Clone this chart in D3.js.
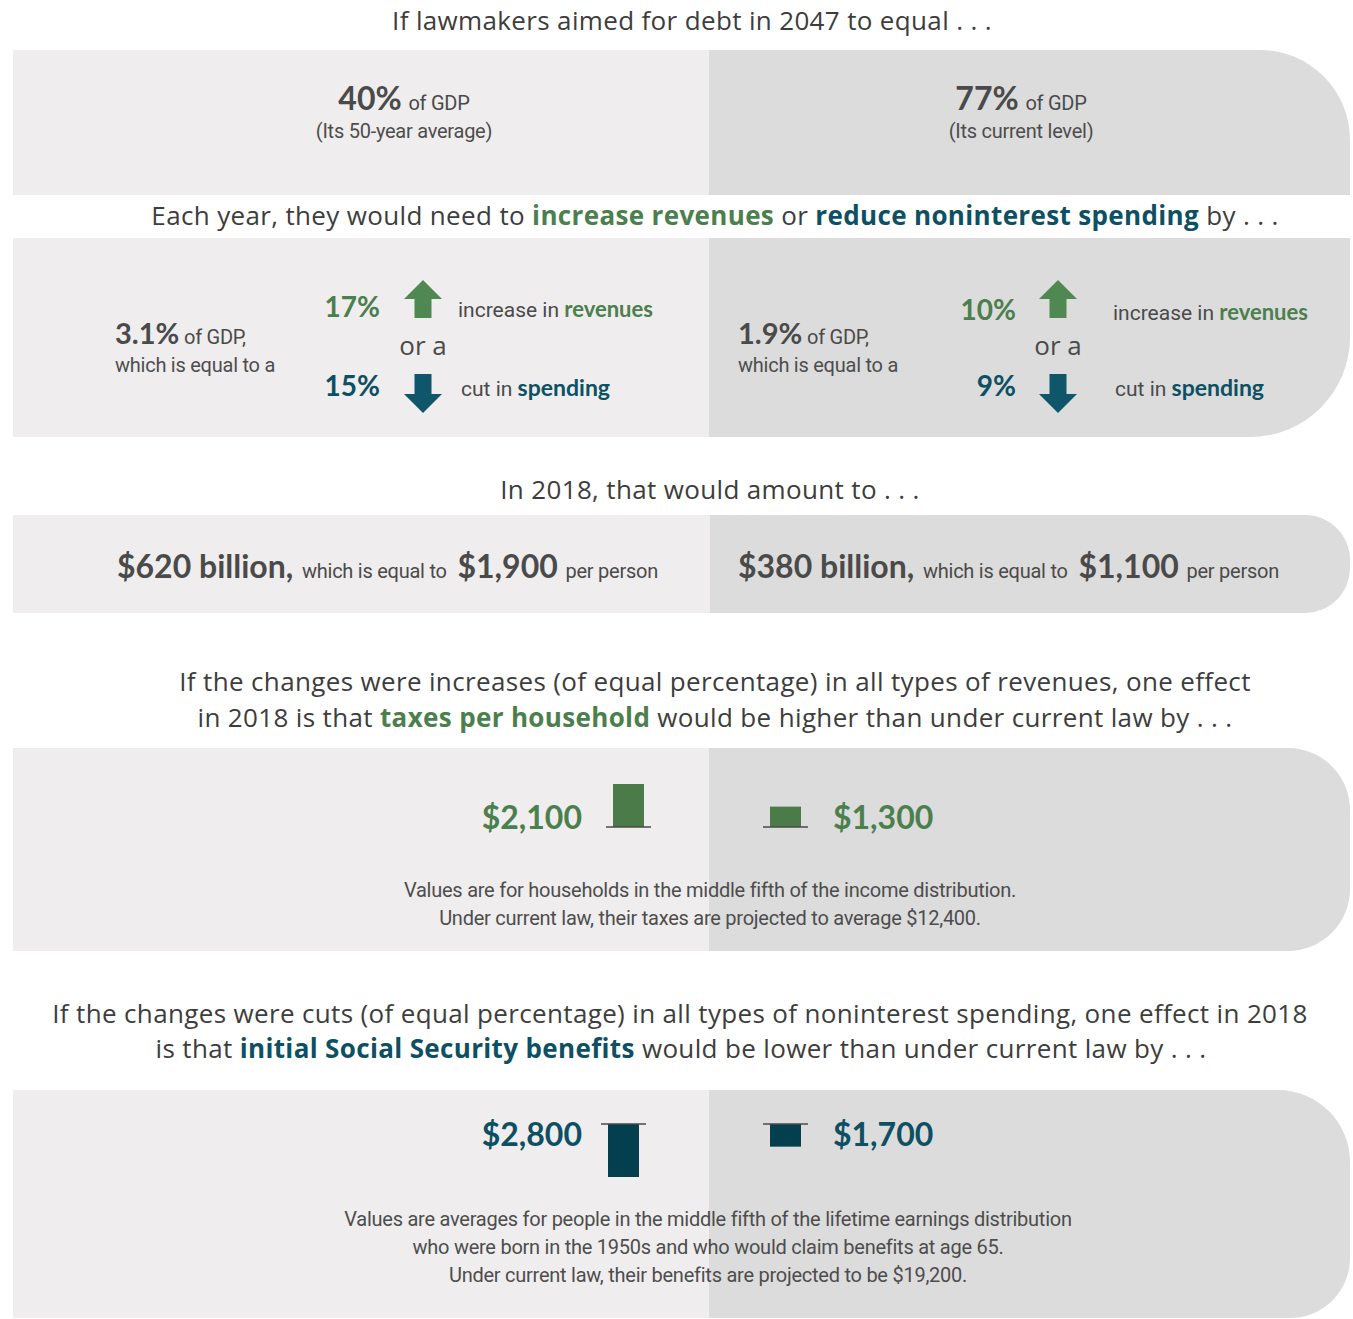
<!DOCTYPE html>
<html><head><meta charset="utf-8">
<script src="https://cdn.jsdelivr.net/npm/d3@7"></script>
<style>
body{margin:0;background:#fff;}
svg text{white-space:pre;}
.hd{font-family:"Open Sans","Noto Sans",sans-serif;font-size:26px;fill:#3d3d3d;letter-spacing:0.35px;}
.cd{font-family:Roboto,sans-serif;font-size:20px;fill:#4d4d4d;letter-spacing:-0.25px;}
</style></head>
<body>
<svg id="c" width="1353" height="1319"></svg>
<script>
// ---------- data ----------
const debtTargets = ["40%", "77%"];
const debtTargetNotes = ["(Its 50-year average)", "(Its current level)"];
const gdpChange = ["3.1%", "1.9%"];
const revenueIncrease = ["17%", "10%"];
const spendingCut = ["15%", "9%"];
const amount2018 = ["$620 billion,", "$380 billion,"];
const perPerson = ["$1,900", "$1,100"];
const taxIncreasePerHousehold = [2100, 1300];
const benefitCutPerPerson = [2800, 1700];
const taxLabels = ["$2,100", "$1,300"];
const benefitLabels = ["$2,800", "$1,700"];

const GREEN = "#4b7f4d", TEAL = "#0d5063", ARROW_TEAL = "#0f566b", BAR_GREEN = "#4a7b48", BAR_TEAL = "#033f4f";
const GRAY = "#4a4a4a", LEFT_BG = "#efedee", RIGHT_BG = "#dcdcdc";

const svg = d3.select("#c");

// ---------- helpers ----------
function rich(x, y, anchor, segs, cls){
  const t = svg.append("text").attr("x", x).attr("y", y).attr("text-anchor", anchor);
  if (cls) t.attr("class", cls);
  segs.forEach(s => {
    const ts = t.append("tspan").text(s.t);
    if (s.fill) ts.attr("fill", s.fill);
    if (s.w) ts.attr("font-weight", s.w);
    if (s.size) ts.attr("font-size", s.size);
    if (s.fam) ts.attr("font-family", s.fam);
    if (s.dx) ts.attr("dx", s.dx);
    if (s.ls !== undefined) ts.attr("letter-spacing", s.ls);
  });
  return t;
}
const BOLD = "Lato, 'Noto Sans', sans-serif";
const COND = "Roboto, sans-serif";

function panel(y0, y1, xL, xM, xR, rTop, rBot){
  svg.append("rect").attr("x", xL).attr("y", y0).attr("width", xM - xL).attr("height", y1 - y0).attr("fill", LEFT_BG);
  const p = d3.path();
  p.moveTo(xM, y0);
  p.lineTo(xR - rTop, y0);
  if (rTop > 0) p.arcTo(xR, y0, xR, y0 + rTop, rTop);
  p.lineTo(xR, y1 - rBot);
  if (rBot > 0) p.arcTo(xR, y1, xR - rBot, y1, rBot);
  p.lineTo(xM, y1);
  p.closePath();
  svg.append("path").attr("d", p.toString()).attr("fill", RIGHT_BG);
}

function arrow(cx, yTop, yBot, dir, fill){
  const hw = 19, sw = 8.5, hh = 19;
  const p = d3.path();
  if (dir > 0){
    p.moveTo(cx, yTop); p.lineTo(cx + hw, yTop + hh); p.lineTo(cx + sw, yTop + hh);
    p.lineTo(cx + sw, yBot); p.lineTo(cx - sw, yBot); p.lineTo(cx - sw, yTop + hh);
    p.lineTo(cx - hw, yTop + hh); p.closePath();
  } else {
    p.moveTo(cx, yBot); p.lineTo(cx + hw, yBot - hh); p.lineTo(cx + sw, yBot - hh);
    p.lineTo(cx + sw, yTop); p.lineTo(cx - sw, yTop); p.lineTo(cx - sw, yBot - hh);
    p.lineTo(cx - hw, yBot - hh); p.closePath();
  }
  svg.append("path").attr("d", p.toString()).attr("fill", fill);
}

const XL = 13, XM = 709, XR = 1350;

// ---------- section 1 ----------
rich(692, 30, "middle", [{t:"If lawmakers aimed for debt in 2047 to equal . . ."}], "hd");
panel(50, 195, XL, XM, XR, 90, 0);
const col1 = [404, 1021];
debtTargets.forEach((d, i) => {
  rich(col1[i], 110, "middle", [{t:d, fam:BOLD, w:700, size:32, fill:GRAY}, {t:" of GDP", fam:COND, size:20, fill:GRAY, dx:2, ls:-0.25}]);
  rich(col1[i], 138, "middle", [{t:debtTargetNotes[i]}], "cd");
});

// ---------- section 2 ----------
rich(715, 225, "middle", [
  {t:"Each year, they would need to "},
  {t:"increase revenues", w:700, fill:GREEN},
  {t:" or "},
  {t:"reduce noninterest spending", w:700, fill:TEAL},
  {t:" by . . ."}], "hd");
panel(238, 437, XL, XM, XR, 0, 100);
const col2 = [
  {pct:115, num:380, arr:423, lab:458, lab2:461},
  {pct:738, num:1016, arr:1058, lab:1113, lab2:1115}
];
gdpChange.forEach((d, i) => {
  const c = col2[i];
  rich(c.pct, 344, "start", [{t:d, fam:BOLD, w:700, size:29, fill:GRAY}, {t:" of GDP,", fam:COND, size:20, fill:GRAY, ls:-0.25}]);
  rich(c.pct, 372, "start", [{t:"which is equal to a"}], "cd");
  rich(c.num, i === 0 ? 317 : 320, "end", [{t:revenueIncrease[i], fam:BOLD, w:700, size:28, fill:GREEN}]);
  arrow(c.arr, 280, 318, 1, "#4f8850");
  rich(c.lab, i === 0 ? 317 : 320, "start", [{t:"increase in ", fam:COND, size:21, fill:GRAY}, {t:"revenues", fam:BOLD, w:700, size:22, fill:GREEN}]);
  rich(c.arr, 355, "middle", [{t:"or a", fam:"'Open Sans', sans-serif", size:26, fill:GRAY}]);
  rich(c.num, 396, "end", [{t:spendingCut[i], fam:BOLD, w:700, size:28, fill:TEAL}]);
  arrow(c.arr, 374, 413, -1, ARROW_TEAL);
  rich(c.lab2, 396, "start", [{t:"cut in ", fam:COND, size:21, fill:GRAY}, {t:"spending", fam:BOLD, w:700, size:23, fill:TEAL}]);
});

// ---------- section 3 ----------
rich(710, 499, "middle", [{t:"In 2018, that would amount to . . ."}], "hd");
panel(515, 613, XL, 710, XR, 45, 45);
const col3 = [117, 738];
amount2018.forEach((d, i) => {
  rich(col3[i], 578, "start", [
    {t:d, fam:BOLD, w:700, size:32, fill:GRAY},
    {t:" which is equal to", fam:COND, size:20, fill:GRAY, dx:4, ls:-0.25},
    {t:" " + perPerson[i], fam:BOLD, w:700, size:32, fill:GRAY, dx:3},
    {t:" per person", fam:COND, size:20, fill:GRAY, dx:3, ls:-0.25}]);
});

// ---------- section 4 ----------
rich(715, 691, "middle", [{t:"If the changes were increases (of equal percentage) in all types of revenues, one effect"}], "hd");
rich(715, 727, "middle", [{t:"in 2018 is that "}, {t:"taxes per household", w:700, fill:GREEN}, {t:" would be higher than under current law by . . ."}], "hd");
panel(748, 951, XL, XM, XR, 62, 62);

const taxBars = [{x:613, numX:582, anchor:"end"}, {x:770, numX:833, anchor:"start"}];
const yTax = d3.scaleLinear().domain([580, 2100]).range([0, 43]);
const BASE4 = 827, BW = 31;
taxIncreasePerHousehold.forEach((v, i) => {
  const b = taxBars[i];
  svg.append("rect").attr("x", b.x).attr("y", BASE4 - yTax(v)).attr("width", BW).attr("height", yTax(v)).attr("fill", BAR_GREEN);
  svg.append("line").attr("x1", b.x - 7).attr("x2", b.x + BW + 7).attr("y1", BASE4).attr("y2", BASE4).attr("stroke", "#4a4a4a").attr("stroke-width", 1.5);
  rich(b.numX, 829, b.anchor, [{t:taxLabels[i], fam:BOLD, w:700, size:32, fill:GREEN}]);
});
rich(710, 897, "middle", [{t:"Values are for households in the middle fifth of the income distribution."}], "cd");
rich(710, 925, "middle", [{t:"Under current law, their taxes are projected to average $12,400."}], "cd");

// ---------- section 5 ----------
rich(680, 1023, "middle", [{t:"If the changes were cuts (of equal percentage) in all types of noninterest spending, one effect in 2018"}], "hd");
rich(681, 1058, "middle", [{t:"is that "}, {t:"initial Social Security benefits", w:700, fill:TEAL}, {t:" would be lower than under current law by . . ."}], "hd");
panel(1090, 1318, XL, XM, XR, 72, 60);

const benBars = [{x:608, numX:582, anchor:"end"}, {x:770, numX:833, anchor:"start"}];
const yBen = d3.scaleLinear().domain([880, 2800]).range([0, 53]);
const TOP5 = 1124;
benefitCutPerPerson.forEach((v, i) => {
  const b = benBars[i];
  svg.append("rect").attr("x", b.x).attr("y", TOP5).attr("width", BW).attr("height", yBen(v)).attr("fill", BAR_TEAL);
  svg.append("line").attr("x1", b.x - 7).attr("x2", b.x + BW + 7).attr("y1", TOP5).attr("y2", TOP5).attr("stroke", "#4a4a4a").attr("stroke-width", 1.5);
  rich(b.numX, 1146, b.anchor, [{t:benefitLabels[i], fam:BOLD, w:700, size:32, fill:TEAL}]);
});
rich(708, 1226, "middle", [{t:"Values are averages for people in the middle fifth of the lifetime earnings distribution"}], "cd");
rich(708, 1254, "middle", [{t:"who were born in the 1950s and who would claim benefits at age 65."}], "cd");
rich(708, 1282, "middle", [{t:"Under current law, their benefits are projected to be $19,200."}], "cd");
</script>
</body></html>
